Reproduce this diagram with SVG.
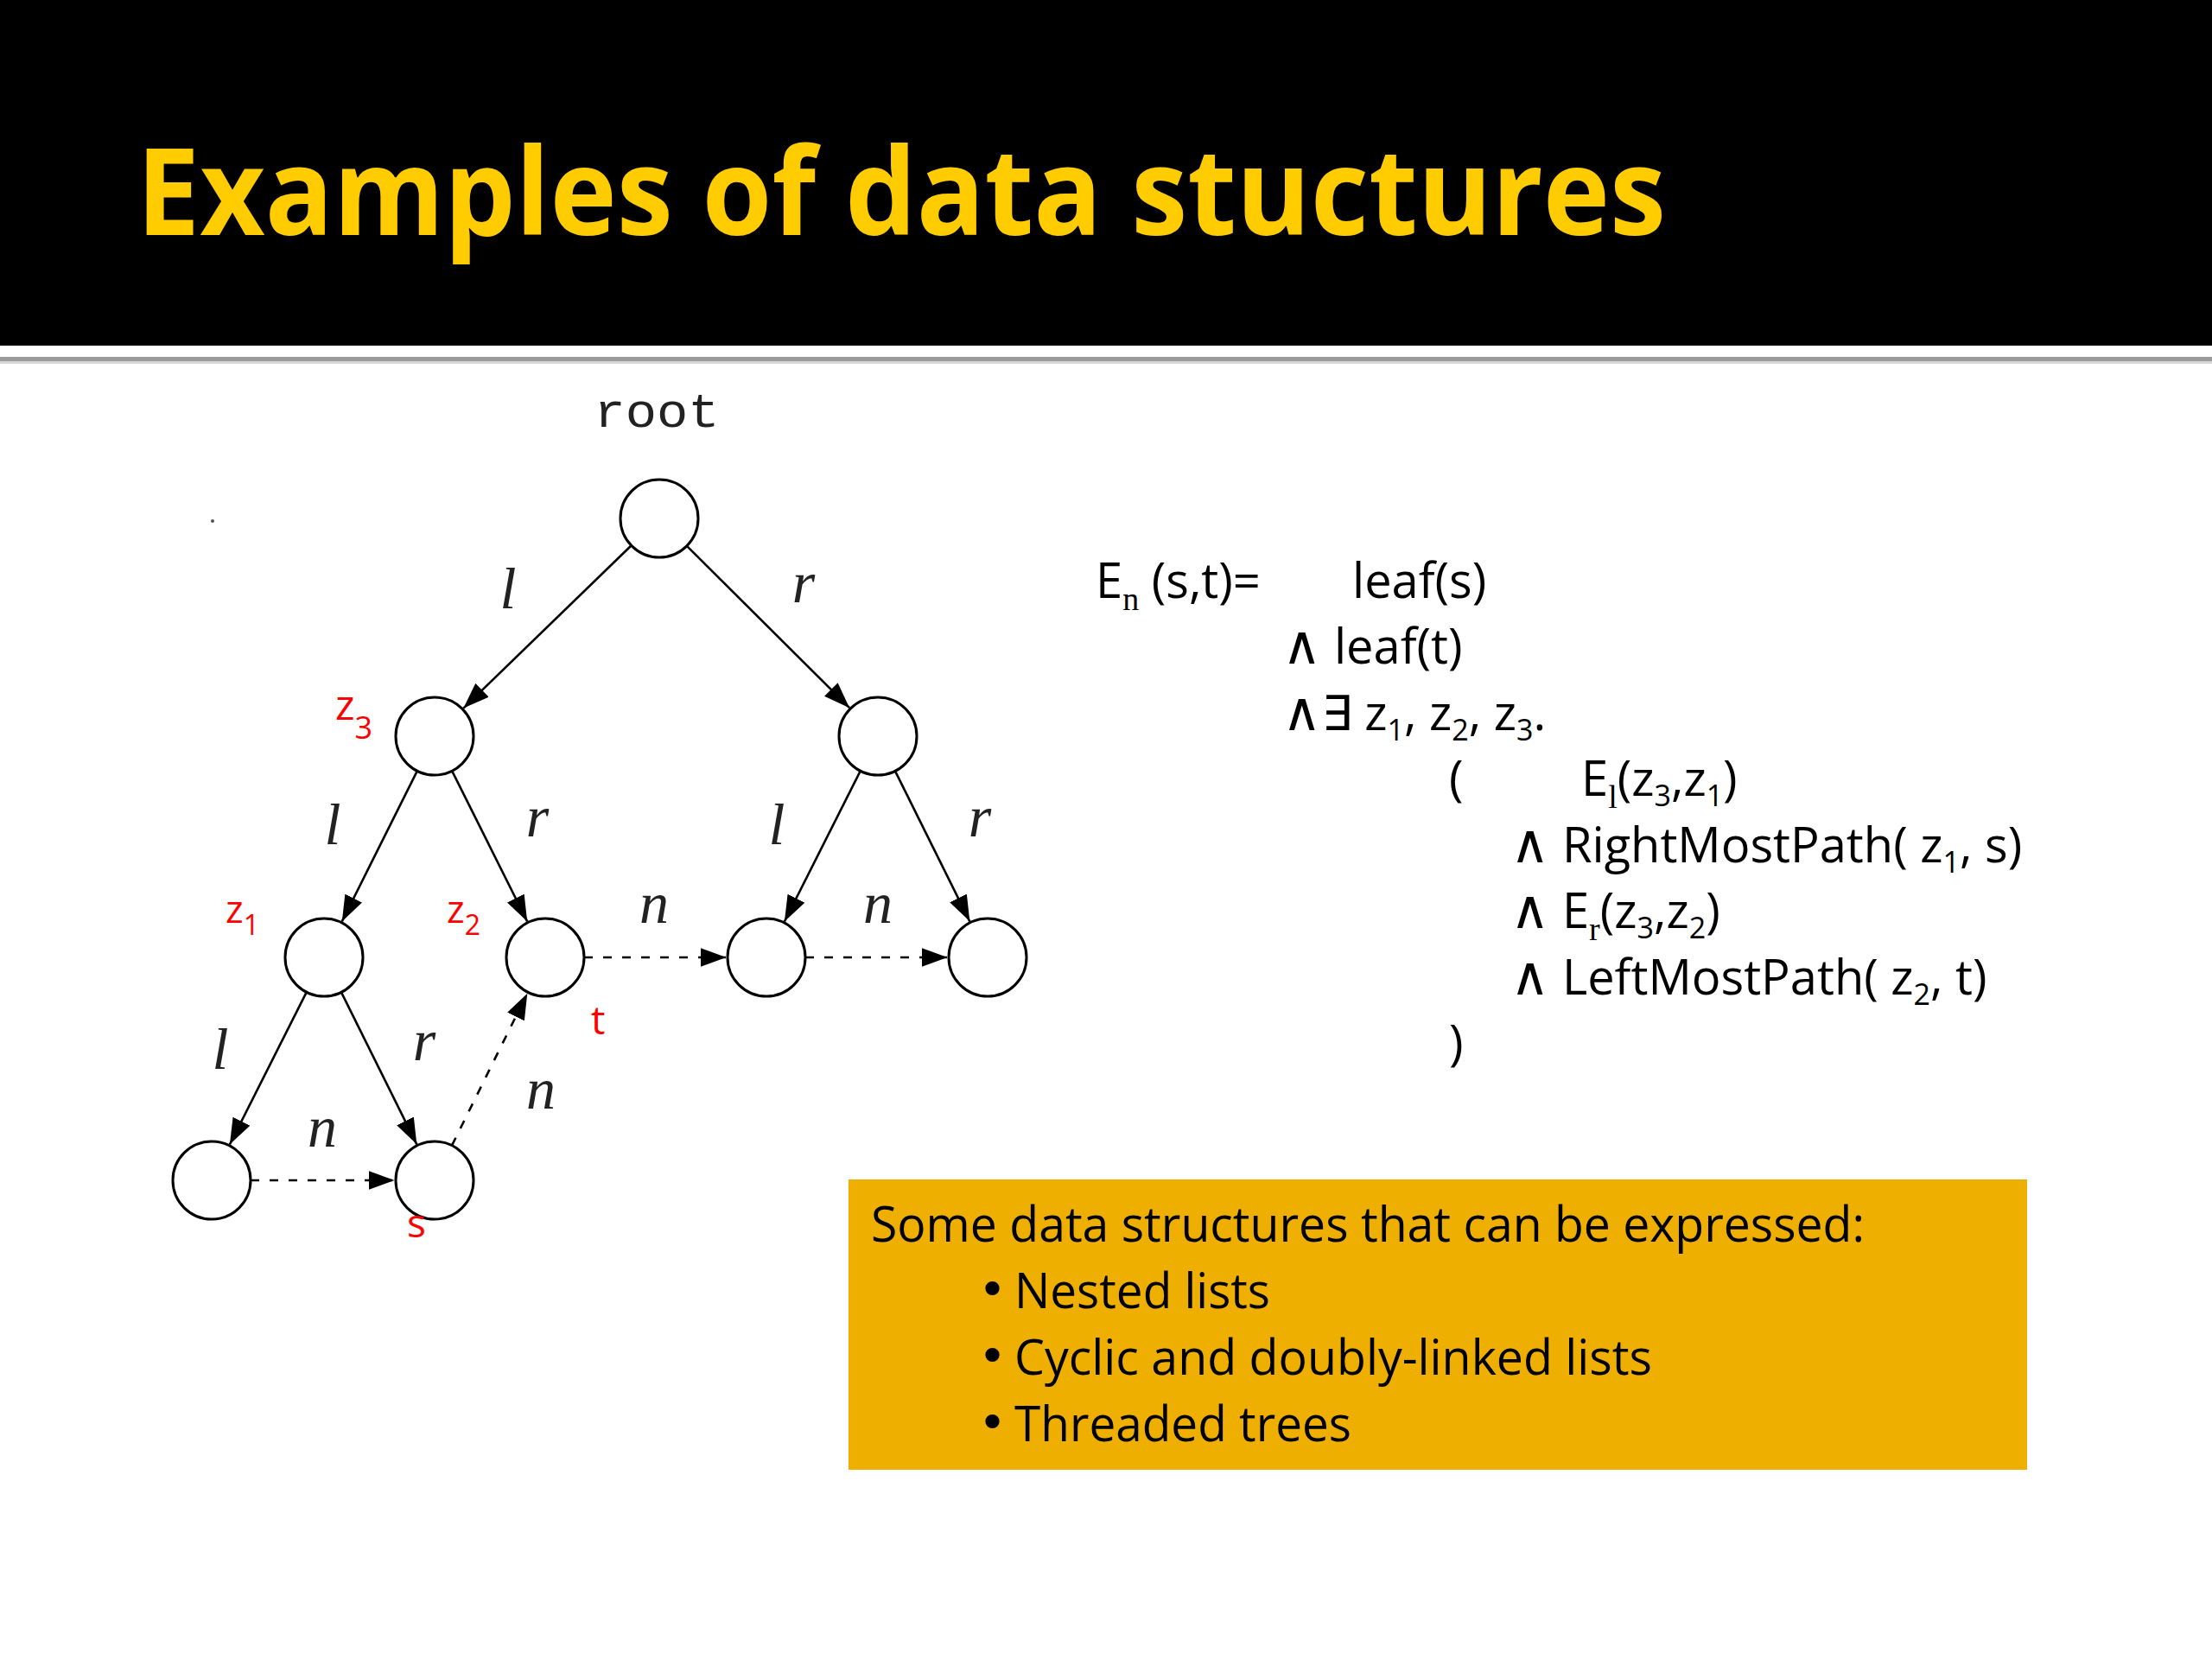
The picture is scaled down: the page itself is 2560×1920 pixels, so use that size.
<svg xmlns="http://www.w3.org/2000/svg" width="2560" height="1920" viewBox="0 0 2560 1920">
<defs>
<marker id="arr" viewBox="0 0 30 22" refX="30" refY="11" markerWidth="30" markerHeight="22" markerUnits="userSpaceOnUse" orient="auto">
<path d="M0,0 L30,11 L0,22 z" fill="#000"/>
</marker>
<style>
.node{fill:#fff;stroke:#000;stroke-width:3}
.edge{stroke:#000;stroke-width:2.6;fill:none;marker-end:url(#arr)}
.dash{stroke:#000;stroke-width:2.6;fill:none;stroke-dasharray:10 12;marker-end:url(#arr)}
.math{font-family:"Liberation Serif","DejaVu Serif",serif;font-style:italic;font-size:68px;fill:#222;text-anchor:middle}
.red{font-family:"Open Sans","Liberation Sans",sans-serif;fill:#ff0000}
.f{font-family:"Open Sans","DejaVu Sans",sans-serif;font-size:56px;fill:#000}
.and{font-family:"DejaVu Sans",sans-serif;font-size:62px}
.sub{font-size:34px}
.ssub{font-family:"Liberation Serif",serif;font-size:38px}
.box{font-family:"Open Sans","Liberation Sans",sans-serif;font-size:56px;fill:#000}
.bul{font-family:"DejaVu Sans",sans-serif;font-size:56px;fill:#000}
</style>
</defs>
<rect width="2560" height="1920" fill="#fff"/>
<g id="header">
<rect x="0" y="0" width="2560" height="400" fill="#000"/>
<rect x="0" y="413" width="2560" height="5" fill="#9a9a9a"/>
<rect x="0" y="418" width="2560" height="3" fill="#d6d6d6"/>
<text x="158" y="272" font-family="Open Sans, Liberation Sans, sans-serif" font-weight="bold" font-size="140" fill="#ffcc00" textLength="1770" lengthAdjust="spacingAndGlyphs">Examples of data stuctures</text>
</g>
<circle cx="246" cy="603" r="2" fill="#555"/>
<text x="760" y="494" font-family="Liberation Mono, DejaVu Sans Mono, monospace" font-size="56" fill="#222" text-anchor="middle" textLength="145" lengthAdjust="spacingAndGlyphs">root</text>
<g id="connectors">
<g id="e-root-z3"><line class="edge" x1="730.7" y1="631.3" x2="536.4" y2="819.6"/><text class="math" x="588" y="704">l</text></g>
<g id="e-root-r"><line class="edge" x1="794.9" y1="631.8" x2="983.1" y2="819.2"/><text class="math" x="930" y="697">r</text></g>
<g id="e-z3-z1"><line class="edge" x1="482.9" y1="892.2" x2="395.8" y2="1066.4"/><text class="math" x="385" y="977">l</text></g>
<g id="e-z3-z2"><line class="edge" x1="523.1" y1="892.2" x2="610.2" y2="1066.4"/><text class="math" x="622" y="968">r</text></g>
<g id="e-r-rl"><line class="edge" x1="995.8" y1="892.2" x2="907.9" y2="1066.5"/><text class="math" x="899" y="977">l</text></g>
<g id="e-r-rr"><line class="edge" x1="1036" y1="892.3" x2="1122.3" y2="1066.3"/><text class="math" x="1134" y="968">r</text></g>
<g id="e-z1-bl"><line class="edge" x1="354.8" y1="1148.2" x2="265.9" y2="1324.5"/><text class="math" x="255" y="1237">l</text></g>
<g id="e-z1-s"><line class="edge" x1="395" y1="1148.3" x2="482.3" y2="1324.3"/><text class="math" x="491" y="1227">r</text></g>
<g id="e-bl-s"><line class="dash" x1="290" y1="1366" x2="456.5" y2="1366"/><text class="math" x="373" y="1327">n</text></g>
<g id="e-z2-rl"><line class="dash" x1="676" y1="1108" x2="840.5" y2="1108"/><text class="math" x="757" y="1068">n</text></g>
<g id="e-rl-rr"><line class="dash" x1="932" y1="1108" x2="1096.5" y2="1108"/><text class="math" x="1016" y="1068">n</text></g>
<g id="e-s-z2"><line class="dash" x1="523" y1="1325.7" x2="610.3" y2="1149.7"/><text class="math" x="626" y="1283">n</text></g>
</g>
<g id="n-root"><circle class="node" cx="763" cy="600" r="45"/></g>
<g id="n-z3"><circle class="node" cx="503" cy="852" r="45"/><text class="red" x="388" y="833" font-size="48">z<tspan font-size="36" dy="22">3</tspan></text></g>
<g id="n-right"><circle class="node" cx="1016" cy="852" r="45"/></g>
<g id="n-z1"><circle class="node" cx="375" cy="1108" r="45"/><text class="red" x="261" y="1068" font-size="44">z<tspan font-size="32" dy="14">1</tspan></text></g>
<g id="n-z2"><circle class="node" cx="631" cy="1108" r="45"/><text class="red" x="517" y="1068" font-size="44">z<tspan font-size="32" dy="14">2</tspan></text><text class="red" x="684" y="1197" font-size="46">t</text></g>
<g id="n-rl"><circle class="node" cx="887" cy="1108" r="45"/></g>
<g id="n-rr"><circle class="node" cx="1143" cy="1108" r="45"/></g>
<g id="n-bl"><circle class="node" cx="245" cy="1366" r="45"/></g>
<g id="n-s"><circle class="node" cx="503" cy="1366" r="45"/><text class="red" x="471" y="1432" font-size="46">s</text></g>
<g id="formula">
<text class="f" x="1268" y="692">E<tspan class="ssub" dy="14">n</tspan><tspan dy="-14"> (s,t)=</tspan></text>
<text class="f" x="1565" y="692">leaf(s)</text>
<text class="f" x="1484" y="768"><tspan class="and">∧</tspan> leaf(t)</text>
<text class="f" x="1484" y="845"><tspan class="and">∧</tspan>∃ z<tspan class="sub" dy="12">1</tspan><tspan dy="-12">, z</tspan><tspan class="sub" dy="12">2</tspan><tspan dy="-12">, z</tspan><tspan class="sub" dy="12">3</tspan><tspan dy="-12">.</tspan></text>
<text class="f" x="1677" y="921">(</text>
<text class="f" x="1830" y="921">E<tspan class="ssub" dy="14">l</tspan><tspan dy="-14">(z</tspan><tspan class="sub" dy="12">3</tspan><tspan dy="-12">,z</tspan><tspan class="sub" dy="12">1</tspan><tspan dy="-12">)</tspan></text>
<text class="f" x="1748" y="998"><tspan class="and">∧</tspan> RightMostPath( z<tspan class="sub" dy="12">1</tspan><tspan dy="-12">, s)</tspan></text>
<text class="f" x="1748" y="1074"><tspan class="and">∧</tspan> E<tspan class="ssub" dy="14">r</tspan><tspan dy="-14">(z</tspan><tspan class="sub" dy="12">3</tspan><tspan dy="-12">,z</tspan><tspan class="sub" dy="12">2</tspan><tspan dy="-12">)</tspan></text>
<text class="f" x="1748" y="1151"><tspan class="and">∧</tspan> LeftMostPath( z<tspan class="sub" dy="12">2</tspan><tspan dy="-12">, t)</tspan></text>
<text class="f" x="1677" y="1227">)</text>
</g>
<g id="box">
<rect x="982" y="1365" width="1364" height="336" fill="#efaf00"/>
<text class="box" x="1008" y="1437" textLength="1150" lengthAdjust="spacingAndGlyphs">Some data structures that can be expressed:</text>
<text class="bul" x="1132" y="1512">•</text>
<text class="box" x="1174" y="1514" textLength="296" lengthAdjust="spacingAndGlyphs">Nested lists</text>
<text class="bul" x="1132" y="1589">•</text>
<text class="box" x="1174" y="1591" textLength="738" lengthAdjust="spacingAndGlyphs">Cyclic and doubly-linked lists</text>
<text class="bul" x="1132" y="1666">•</text>
<text class="box" x="1174" y="1668" textLength="390" lengthAdjust="spacingAndGlyphs">Threaded trees</text>
</g>
</svg>
